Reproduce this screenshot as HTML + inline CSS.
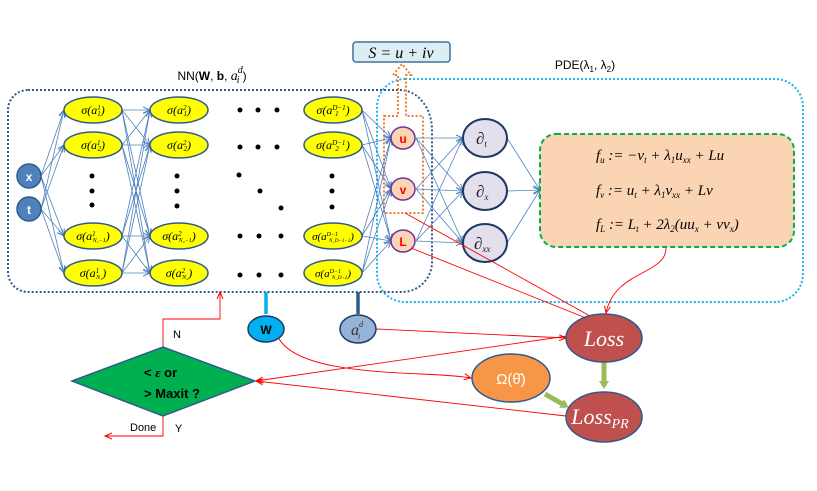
<!DOCTYPE html>
<html><head><meta charset="utf-8"><style>
body{margin:0;background:#fff;width:817px;height:491px;overflow:hidden}
svg{display:block}
.m{font-family:"Liberation Serif",serif;font-style:italic}
.s{font-family:"Liberation Sans",sans-serif}
</style></head><body>
<svg width="817" height="491" viewBox="0 0 817 491" xmlns="http://www.w3.org/2000/svg">
<defs>
<marker id="ab" markerWidth="8" markerHeight="8" refX="7" refY="4" orient="auto" markerUnits="userSpaceOnUse"><path d="M0,1 L7,4 L0,7" fill="none" stroke="#4f81bd" stroke-width="1"/></marker>
<marker id="ar" markerWidth="8" markerHeight="8" refX="7" refY="4" orient="auto" markerUnits="userSpaceOnUse"><path d="M0,1 L7,4 L0,7" fill="none" stroke="#f00" stroke-width="1"/></marker>
<marker id="ag" markerWidth="10" markerHeight="10" refX="5" refY="5" orient="auto" markerUnits="userSpaceOnUse"><path d="M0,0 L8,5 L0,10 z" fill="#9bbb59"/></marker>
</defs>
<rect x="377" y="79" width="426" height="223" rx="28" fill="none" stroke="#1eb4ec" stroke-width="2" stroke-dasharray="2,2"/>
<path d="M28,90 H400 A32,40 0 0 1 432,130 V262 A30,30 0 0 1 402,292 H28 A20,20 0 0 1 8,272 V110 A20,20 0 0 1 28,90 Z" fill="none" stroke="#2e5a8e" stroke-width="2" stroke-dasharray="2,2"/>
<text x="212" y="80" class="s" font-size="12" text-anchor="middle">NN(<tspan font-weight="bold">W</tspan>, <tspan font-weight="bold">b</tspan>, <tspan class="m" font-size="14">a</tspan><tspan class="m" font-size="10" dy="-7">d</tspan><tspan class="m" font-size="10" dy="10" dx="-6">i</tspan><tspan dy="-3" dx="3">)</tspan></text>
<text x="585" y="69" class="s" font-size="12" text-anchor="middle">PDE(λ<tspan font-size="8" dy="3">1</tspan><tspan dy="-3">, λ</tspan><tspan font-size="8" dy="3">2</tspan><tspan dy="-3">)</tspan></text>
<rect x="353" y="42" width="97" height="20" rx="3" fill="#dbeef4" stroke="#41719c" stroke-width="1.5"/>
<text x="401" y="58" class="m" font-size="16" text-anchor="middle">S = u + iv</text>
<path d="M384,116 H398 V75 H393 L402,64 L411,75 H406 V116 H423 V213 H384 Z" fill="none" stroke="#ed7d31" stroke-width="2" stroke-dasharray="2,2"/>
<g stroke="#4f81bd" stroke-width="0.8" fill="none" marker-end="url(#ab)">
<path d="M41,176 L64,110"/><path d="M41,176 L64,145"/><path d="M41,176 L64,236"/><path d="M41,176 L64,273"/>
<path d="M41,209 L64,110"/><path d="M41,209 L64,145"/><path d="M41,209 L64,236"/><path d="M41,209 L64,273"/>
<path d="M122,110 L150,110"/><path d="M122,110 L150,145"/><path d="M122,110 L150,236"/><path d="M122,110 L150,273"/>
<path d="M122,145 L150,110"/><path d="M122,145 L150,145"/><path d="M122,145 L150,236"/><path d="M122,145 L150,273"/>
<path d="M122,236 L150,110"/><path d="M122,236 L150,145"/><path d="M122,236 L150,236"/><path d="M122,236 L150,273"/>
<path d="M122,273 L150,110"/><path d="M122,273 L150,145"/><path d="M122,273 L150,236"/><path d="M122,273 L150,273"/>
<path d="M362,110 L391,138"/><path d="M362,110 L391,189"/><path d="M362,110 L391,241"/>
<path d="M362,145 L391,138"/><path d="M362,145 L391,189"/><path d="M362,145 L391,241"/>
<path d="M362,236 L391,138"/><path d="M362,236 L391,189"/><path d="M362,236 L391,241"/>
<path d="M362,273 L391,138"/><path d="M362,273 L391,189"/><path d="M362,273 L391,241"/>
<path d="M416,138 L463,138"/><path d="M416,138 L463,191"/><path d="M416,138 L463,243"/>
<path d="M416,189 L463,138"/><path d="M416,189 L463,191"/><path d="M416,189 L463,243"/>
<path d="M416,241 L463,138"/><path d="M416,241 L463,191"/><path d="M416,241 L463,243"/>
<path d="M507,138 L540,190"/><path d="M507,191 L540,190"/><path d="M507,243 L540,190"/>
</g>
<g fill="#4f81bd" stroke="#2e5a8e" stroke-width="1.5">
<ellipse cx="29" cy="176" rx="12" ry="12"/><ellipse cx="29" cy="209" rx="12" ry="12"/></g>
<text x="29" y="181" class="s" font-size="12" font-weight="bold" fill="#fff" text-anchor="middle">x</text>
<text x="29" y="214" class="s" font-size="12" font-weight="bold" fill="#fff" text-anchor="middle">t</text>
<g fill="#ffff00" stroke="#2e5a8e" stroke-width="1.5">
<ellipse cx="93" cy="110" rx="29" ry="13"/><ellipse cx="93" cy="145" rx="29" ry="13"/><ellipse cx="93" cy="236" rx="29" ry="13"/><ellipse cx="93" cy="273" rx="29" ry="13"/>
<ellipse cx="179" cy="110" rx="29" ry="13"/><ellipse cx="179" cy="145" rx="29" ry="13"/><ellipse cx="179" cy="236" rx="29" ry="13"/><ellipse cx="179" cy="273" rx="29" ry="13"/>
<ellipse cx="333" cy="110" rx="29" ry="13"/><ellipse cx="333" cy="145" rx="29" ry="13"/><ellipse cx="333" cy="236" rx="29" ry="13"/><ellipse cx="333" cy="273" rx="29" ry="13"/>
</g>
<g class="m" font-size="12" text-anchor="middle">
<text x="93" y="114">σ(a<tspan font-size="7" dy="-4">1</tspan><tspan font-size="7" dy="6" dx="-3">1</tspan><tspan dy="-2">)</tspan></text>
<text x="93" y="149">σ(a<tspan font-size="7" dy="-4">1</tspan><tspan font-size="7" dy="6" dx="-3">2</tspan><tspan dy="-2">)</tspan></text>
<text x="93" y="240">σ(a<tspan font-size="7" dy="-4">1</tspan><tspan font-size="6" dy="6" dx="-3">N₁−1</tspan><tspan dy="-2">)</tspan></text>
<text x="93" y="277">σ(a<tspan font-size="7" dy="-4">1</tspan><tspan font-size="6" dy="6" dx="-3">N₁</tspan><tspan dy="-2">)</tspan></text>
<text x="179" y="114">σ(a<tspan font-size="7" dy="-4">2</tspan><tspan font-size="7" dy="6" dx="-3">1</tspan><tspan dy="-2">)</tspan></text>
<text x="179" y="149">σ(a<tspan font-size="7" dy="-4">2</tspan><tspan font-size="7" dy="6" dx="-3">2</tspan><tspan dy="-2">)</tspan></text>
<text x="179" y="240">σ(a<tspan font-size="7" dy="-4">2</tspan><tspan font-size="6" dy="6" dx="-3">N₂−1</tspan><tspan dy="-2">)</tspan></text>
<text x="179" y="277">σ(a<tspan font-size="7" dy="-4">2</tspan><tspan font-size="6" dy="6" dx="-3">N₂</tspan><tspan dy="-2">)</tspan></text>
<text x="333" y="114">σ(a<tspan font-size="7" dy="-4">D−1</tspan><tspan font-size="7" dy="6" dx="-10">1</tspan><tspan dy="-2" dx="7">)</tspan></text>
<text x="333" y="149">σ(a<tspan font-size="7" dy="-4">D−1</tspan><tspan font-size="7" dy="6" dx="-10">2</tspan><tspan dy="-2" dx="7">)</tspan></text>
<text x="333" y="240" font-size="11">σ(a<tspan font-size="6" dy="-4">D−1</tspan><tspan font-size="5" dy="6" dx="-9">N_D−1−1</tspan><tspan dy="-2">)</tspan></text>
<text x="333" y="277" font-size="11">σ(a<tspan font-size="6" dy="-4">D−1</tspan><tspan font-size="5" dy="6" dx="-9">N_D−1</tspan><tspan dy="-2">)</tspan></text>
</g>
<g fill="#000">
<circle cx="92" cy="176" r="2.5"/><circle cx="92" cy="191" r="2.5"/><circle cx="92" cy="205" r="2.5"/>
<circle cx="177" cy="176" r="2.5"/><circle cx="177" cy="191" r="2.5"/><circle cx="177" cy="206" r="2.5"/>
<circle cx="332" cy="176" r="2.5"/><circle cx="332" cy="191" r="2.5"/><circle cx="332" cy="207" r="2.5"/>
<circle cx="240" cy="110" r="2.5"/><circle cx="258" cy="110" r="2.5"/><circle cx="277" cy="110" r="2.5"/>
<circle cx="240" cy="147" r="2.5"/><circle cx="258" cy="147" r="2.5"/><circle cx="277" cy="147" r="2.5"/>
<circle cx="240" cy="236" r="2.5"/><circle cx="259" cy="236" r="2.5"/><circle cx="281" cy="236" r="2.5"/>
<circle cx="240" cy="275" r="2.5"/><circle cx="259" cy="275" r="2.5"/><circle cx="281" cy="275" r="2.5"/>
<circle cx="239" cy="175" r="2.5"/><circle cx="260" cy="191" r="2.5"/><circle cx="281" cy="208" r="2.5"/>
</g>
<g fill="#fbd4b4" stroke="#7030a0" stroke-width="1.5">
<ellipse cx="403" cy="138" rx="12" ry="11"/><ellipse cx="403" cy="189" rx="12" ry="11"/><ellipse cx="403" cy="241" rx="12" ry="11"/></g>
<g class="s" font-size="12" font-weight="bold" fill="#f00" text-anchor="middle">
<text x="403" y="143">u</text><text x="403" y="194">v</text><text x="403" y="246">L</text></g>
<g fill="#e4dfec" stroke="#1f3864" stroke-width="2">
<ellipse cx="485" cy="138" rx="22" ry="19"/><ellipse cx="485" cy="191" rx="22" ry="19"/><ellipse cx="485" cy="243" rx="22" ry="19"/></g>
<g class="m" font-size="17" fill="#222">
<text x="476" y="144">∂<tspan font-size="9" dy="3">t</tspan></text>
<text x="476" y="197">∂<tspan font-size="9" dy="3">x</tspan></text>
<text x="474" y="249">∂<tspan font-size="9" dy="3">xx</tspan></text></g>
<rect x="540" y="134" width="254" height="113" rx="16" fill="#fbd4b4" stroke="#00b050" stroke-width="2" stroke-dasharray="5,3"/>
<g class="m" font-size="15">
<text x="596" y="160">f<tspan font-size="9" dy="3">u</tspan><tspan dy="-3"> := −v</tspan><tspan font-size="9" dy="3">t</tspan><tspan dy="-3"> + λ</tspan><tspan font-size="9" dy="3">1</tspan><tspan dy="-3">u</tspan><tspan font-size="9" dy="3">xx</tspan><tspan dy="-3"> + Lu</tspan></text>
<text x="596" y="195">f<tspan font-size="9" dy="3">v</tspan><tspan dy="-3"> := u</tspan><tspan font-size="9" dy="3">t</tspan><tspan dy="-3"> + λ</tspan><tspan font-size="9" dy="3">1</tspan><tspan dy="-3">v</tspan><tspan font-size="9" dy="3">xx</tspan><tspan dy="-3"> + Lv</tspan></text>
<text x="596" y="229">f<tspan font-size="9" dy="3">L</tspan><tspan dy="-3"> := L</tspan><tspan font-size="9" dy="3">t</tspan><tspan dy="-3"> + 2λ</tspan><tspan font-size="9" dy="3">2</tspan><tspan dy="-3">(uu</tspan><tspan font-size="9" dy="3">x</tspan><tspan dy="-3"> + vv</tspan><tspan font-size="9" dy="3">x</tspan><tspan dy="-3">)</tspan></text>
</g>
<line x1="266" y1="292" x2="266" y2="314" stroke="#00b0f0" stroke-width="3.5"/>
<line x1="358" y1="292" x2="358" y2="314" stroke="#2e5a8e" stroke-width="3.5"/>
<g stroke="#f00" stroke-width="0.9" fill="none" marker-end="url(#ar)">
<path d="M405,213 L599,321"/>
<path d="M411,248 L596,322"/>
<path d="M666,248 C666,275 615,270 606,313"/>
<path d="M376,329 L566,338"/>
<path d="M567,336 L256,381"/>
<path d="M566,416 L256,381"/>
<path d="M278,337 C300,380 430,370 471,378"/>
<path d="M163,347 V319 H220 V292"/>
<path d="M163,416 V436 H105"/>
</g>
<ellipse cx="266" cy="329" rx="18" ry="13" fill="#00b0f0" stroke="#1f3864" stroke-width="1.5"/>
<text x="266" y="334" class="s" font-size="12" font-weight="bold" text-anchor="middle">W</text>
<ellipse cx="358" cy="329" rx="18" ry="14" fill="#95b3d7" stroke="#1f3864" stroke-width="1.5"/>
<text x="351" y="335" class="m" font-size="16" fill="#333">a<tspan font-size="8" dy="-8">d</tspan><tspan font-size="8" dy="12" dx="-5">i</tspan></text>
<path d="M72,381 L163,347 L255,381 L163,416 Z" fill="#00b050" stroke="#2e5a8e" stroke-width="1.5"/>
<text x="144" y="377" class="s" font-size="13" font-weight="bold">&lt; <tspan class="m">ε</tspan>  or</text>
<text x="144" y="398" class="s" font-size="13" font-weight="bold">&gt; Maxit ?</text>
<text x="173" y="338" class="s" font-size="11">N</text>
<text x="130" y="431" class="s" font-size="11">Done</text>
<text x="175" y="432" class="s" font-size="11">Y</text>
<g stroke="#9bbb59" stroke-width="5" marker-end="url(#ag)">
<line x1="604" y1="362" x2="604" y2="386"/>
<line x1="545" y1="394" x2="566" y2="406"/>
</g>
<ellipse cx="604" cy="338" rx="38" ry="24" fill="#c0504d" stroke="#2e5a8e" stroke-width="1.5"/>
<text x="604" y="346" class="m" font-size="22" fill="#fff" text-anchor="middle">Loss</text>
<ellipse cx="511" cy="378" rx="39" ry="24" fill="#f79646" stroke="#2e5a8e" stroke-width="1.5"/>
<text x="511" y="384" class="s" font-size="15" fill="#fff" text-anchor="middle">Ω(θ̄)</text>
<ellipse cx="604" cy="417" rx="38" ry="25" fill="#c0504d" stroke="#2e5a8e" stroke-width="1.5"/>
<text x="600" y="424" class="m" font-size="22" fill="#fff" text-anchor="middle">Loss<tspan font-size="14" dy="4">PR</tspan></text>
</svg>
</body></html>
